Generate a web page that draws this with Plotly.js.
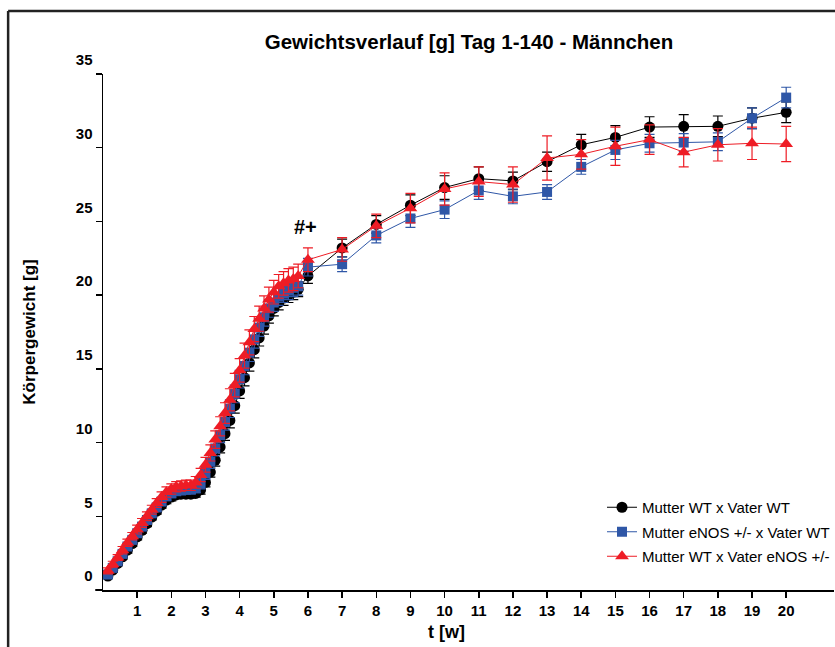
<!DOCTYPE html>
<html>
<head>
<meta charset="utf-8">
<script src="https://cdn.plot.ly/plotly-3.0.1.min.js"></script>
<style>
html,body{margin:0;padding:0;background:#fff;}
#chart{width:835px;height:647px;}
</style>
</head>
<body>
<div id="chart"></div>
<script>
// Days of measurement (daily days 1-40, then weekly from day 42 = week 6 to day 140 = week 20)
const days = [1,2,3,4,5,6,7,8,9,10,11,12,13,14,15,16,17,18,19,20,
              21,22,23,24,25,26,27,28,29,30,31,32,33,34,35,36,37,38,39,40,
              42,49,56,63,70,77,84,91,98,105,112,119,126,133,140];

const seriesNames = ["Mutter WT x Vater WT", "Mutter eNOS +/- x Vater WT", "Mutter WT x Vater eNOS +/-"];

const blackMean = [0.95,1.35,1.8,2.25,2.7,3.15,3.6,4.05,4.5,4.95,5.35,5.75,6.1,6.3,6.45,6.5,6.5,6.5,6.55,6.8,
                   7.3,8.0,8.8,9.7,10.6,11.5,12.5,13.5,14.4,15.4,16.3,17.1,17.9,18.6,19.1,19.5,19.8,20.0,20.2,20.4,
                   21.3,23.2,24.8,26.1,27.3,27.9,27.75,29.05,30.2,30.7,31.4,31.45,31.45,32.0,32.4];
const blackSEM  = [0.15,0.15,0.15,0.15,0.2,0.2,0.2,0.2,0.2,0.2,0.2,0.2,0.25,0.25,0.25,0.25,0.25,0.25,0.25,0.3,
                   0.3,0.35,0.4,0.4,0.45,0.5,0.5,0.5,0.55,0.55,0.55,0.55,0.55,0.5,0.5,0.5,0.5,0.5,0.5,0.5,
                   0.5,0.6,0.6,0.7,0.8,0.8,0.6,0.65,0.7,0.8,0.7,0.8,0.7,0.7,0.7];

const blueMean  = [1.05,1.5,1.95,2.45,2.95,3.4,3.85,4.3,4.75,5.2,5.6,6.0,6.35,6.55,6.7,6.75,6.8,6.8,6.9,7.2,
                   7.9,8.7,9.6,10.5,11.4,12.3,13.3,14.3,15.2,16.1,17.0,17.8,18.5,19.1,19.5,19.9,20.1,20.3,20.5,20.6,
                   21.9,22.1,24.05,25.2,25.8,27.1,26.7,27.0,28.7,29.85,30.3,30.35,30.4,32.0,33.4];
const blueSEM   = [0.15,0.15,0.15,0.2,0.2,0.2,0.2,0.2,0.2,0.25,0.25,0.25,0.25,0.25,0.25,0.25,0.25,0.25,0.3,0.35,
                   0.4,0.45,0.5,0.5,0.55,0.6,0.6,0.6,0.6,0.6,0.6,0.6,0.6,0.6,0.6,0.6,0.6,0.6,0.6,0.6,
                   0.6,0.5,0.5,0.6,0.6,0.6,0.5,0.5,0.5,0.65,0.6,0.6,0.6,0.7,0.7];

const redMean   = [1.3,1.75,2.2,2.7,3.2,3.65,4.1,4.55,5.0,5.45,5.9,6.3,6.65,6.85,7.0,7.05,7.1,7.1,7.3,7.8,
                   8.5,9.3,10.2,11.1,12.0,12.9,13.9,14.9,15.9,16.8,17.7,18.4,19.1,19.7,20.2,20.6,20.8,21.0,21.1,21.3,
                   22.4,23.1,24.7,25.9,27.2,27.7,27.5,29.3,29.55,30.1,30.55,29.7,30.2,30.3,30.25];
const redSEM    = [0.2,0.2,0.2,0.25,0.25,0.25,0.3,0.3,0.3,0.3,0.3,0.35,0.35,0.35,0.35,0.35,0.35,0.35,0.4,0.45,
                   0.5,0.55,0.6,0.65,0.7,0.75,0.8,0.8,0.85,0.85,0.85,0.85,0.85,0.85,0.8,0.8,0.8,0.8,0.8,0.8,
                   0.8,0.8,0.8,1.0,1.1,1.0,1.2,1.5,1.0,1.3,1.0,1.0,1.1,1.1,1.2];

const xTickVals = [1,2,3,4,5,6,7,8,9,10,11,12,13,14,15,16,17,18,19,20];
const xTickText = ["1","2","3","4","5","6","7","8","9","10","11","12","13","14","15","16","17","18","19","20"];
const yTickVals = [0,5,10,15,20,25,30,35];
const yTickText = ["0","5","10","15","20","25","30","35"];
const sigLabel = "#+";
const sigPos = {x: 5.94, y: 24.6};

const weeks = days.map(d => d / 7);
const FONT = "Liberation Sans, Arial, Helvetica, sans-serif";

function series(name, mean, sem, color, symbol, size, group) {
  return {
    type: "scatter", mode: "lines+markers", name: name,
    x: weeks, y: mean, legendgroup: group,
    line: {color: color, width: 1},
    marker: {color: color, symbol: symbol, size: size, line: {width: 0}},
    error_y: {type: "data", array: sem, visible: true, color: color, thickness: 1.2, width: 5}
  };
}

const traces = [
  series(seriesNames[0], blackMean, blackSEM, "#000000", "circle", 11, "a"),
  series(seriesNames[1], blueMean, blueSEM, "#2f57a7", "square", 10, "b"),
  series(seriesNames[2], redMean, redSEM, "#ee1c25", "triangle-up", 12, "c")
];

const layout = {
  width: 835, height: 647,
  margin: {l: 103, r: 0, t: 74, b: 57, pad: 0},
  paper_bgcolor: "#ffffff", plot_bgcolor: "#ffffff",
  showlegend: true,
  title: {text: "Gewichtsverlauf [g] Tag 1-140 - Männchen", x: 469/835, xref: "container", y: 1 - 42/647, yref: "container", yanchor: "middle",
          font: {family: FONT, size: 20.5, color: "#000", weight: "bold"}},
  xaxis: {
    range: [0, 21.4], showgrid: false, zeroline: false,
    showline: true, linecolor: "#000", linewidth: 1.5,
    ticks: "outside", ticklen: 6, tickwidth: 1.5, tickcolor: "#000",
    tickmode: "array", tickvals: xTickVals, ticktext: xTickText,
    tickfont: {family: FONT, size: 15, color: "#000", weight: "bold"}
  },
  yaxis: {
    range: [0, 35], showgrid: false, zeroline: false,
    showline: true, linecolor: "#000", linewidth: 1.5,
    ticks: "outside", ticklen: 6, tickwidth: 1.5, tickcolor: "#000",
    tickmode: "array", tickvals: yTickVals, ticktext: yTickText,
    ticklabelshift: -14,
    tickfont: {family: FONT, size: 15, color: "#000", weight: "bold"},
    title: {text: "Körpergewicht [g]", standoff: 36, font: {family: FONT, size: 17, color: "#000", weight: "bold"}}
  },
  legend: {
    x: (603 - 103) / 732, y: (590 - 491) / 516, xanchor: "left", yanchor: "top",
    bgcolor: "rgba(0,0,0,0)", font: {family: FONT, size: 15, color: "#000"},
    tracegroupgap: 2
  },
  annotations: [
    {text: "t [w]", xref: "paper", yref: "paper", x: (447 - 103) / 732, y: (590 - 632) / 516,
     xanchor: "center", yanchor: "middle", showarrow: false,
     font: {family: FONT, size: 18, color: "#000", weight: "bold"}},
    {text: sigLabel, xref: "x", yref: "y", x: sigPos.x, y: sigPos.y, xanchor: "center", yanchor: "middle",
     showarrow: false, font: {family: FONT, size: 20, color: "#000", weight: "bold"}}
  ],
  shapes: [
    {type: "line", xref: "paper", yref: "paper", x0: -8/732, x1: 0, y0: 0, y1: 0, line: {color: "#000", width: 1.5}},
    {type: "line", xref: "paper", yref: "paper", x0: (8 - 103)/732, x1: (8 - 103)/732, y0: (590 - 11)/516, y1: -0.2, line: {color: "#222", width: 2.5}},
    {type: "line", xref: "paper", yref: "paper", x0: (8 - 103)/732, x1: 1.05, y0: (590 - 11)/516, y1: (590 - 11)/516, line: {color: "#222", width: 2.5}}
  ]
};

Plotly.newPlot("chart", traces, layout, {staticPlot: true, displayModeBar: false});
</script>
</body>
</html>
